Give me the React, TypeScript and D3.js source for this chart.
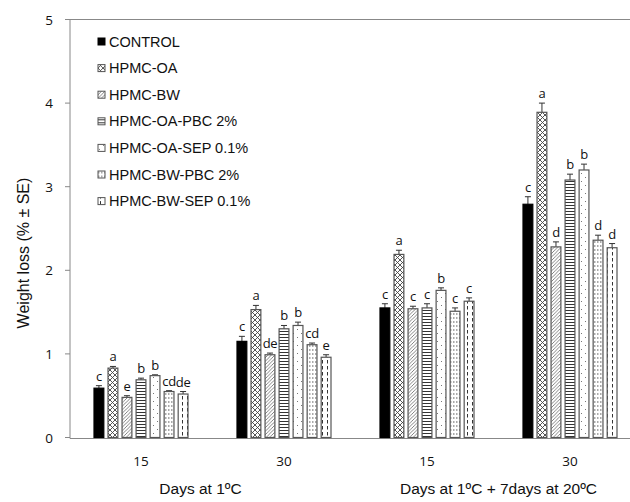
import * as d3 from "d3";

const groups = ["15", "30", "15 ", "30 "];
const groupLabels = ["15", "30", "15", "30"];
const series = [
  "CONTROL",
  "HPMC-OA",
  "HPMC-BW",
  "HPMC-OA-PBC 2%",
  "HPMC-OA-SEP 0.1%",
  "HPMC-BW-PBC 2%",
  "HPMC-BW-SEP 0.1%",
];
const means = [
  [0.59, 1.15, 1.55, 2.79],
  [0.83, 1.53, 2.19, 3.89],
  [0.48, 0.99, 1.54, 2.28],
  [0.69, 1.3, 1.55, 3.08],
  [0.74, 1.34, 1.76, 3.2],
  [0.55, 1.11, 1.51, 2.36],
  [0.52, 0.96, 1.63, 2.27],
];
const errors = [
  [0.03, 0.06, 0.05, 0.09],
  [0.02, 0.05, 0.05, 0.11],
  [0.02, 0.02, 0.03, 0.06],
  [0.02, 0.04, 0.05, 0.07],
  [0.01, 0.04, 0.03, 0.07],
  [0.01, 0.02, 0.04, 0.06],
  [0.03, 0.03, 0.04, 0.05],
];
const letters = [
  ["c", "c", "c", "c"],
  ["a", "a", "a", "a"],
  ["e", "de", "c", "d"],
  ["b", "b", "c", "b"],
  ["b", "b", "b", "b"],
  ["cd", "cd", "c", "d"],
  ["de", "e", "c", "d"],
];
const yTicks = [0, 1, 2, 3, 4, 5];
const periodLabels = ["Days at 1ºC", "Days at 1ºC + 7days at 20ºC"];

const fills = ["#000", "url(#p1)", "url(#p2)", "url(#p3)", "url(#p4)", "url(#p5)", "url(#p6)"];

export default function App() {
  const width = 630, height = 502;
  const left = 70, top = 19.5, bottom = 437.5;

  const y = d3.scaleLinear().domain([0, 5]).range([bottom, top]);
  const x = d3.scaleBand().domain(groups).range([69.5, 641.5]);
  const xs = d3.scaleBand().domain(series).range([-47, 47]).paddingInner(0.3);
  const bw = xs.bandwidth();
  const gc = (g) => x(g) + x.bandwidth() / 2;

  const tickFont = "'Open Sans', sans-serif";
  const textFont = "'Liberation Sans', Arial, sans-serif";

  return (
    <svg width={width} height={height} style={{ position: "absolute", left: 0, top: 0, background: "#fff" }}>
      <defs>
        <pattern id="p1" patternUnits="userSpaceOnUse" width="5" height="5">
          <rect width="5" height="5" fill="#fff" />
          <path d="M0,0L5,5M5,0L0,5" stroke="#444" strokeWidth="0.9" />
        </pattern>
        <pattern id="p2" patternUnits="userSpaceOnUse" width="3.5" height="3.5">
          <rect width="3.5" height="3.5" fill="#fff" />
          <path d="M0,3.5L3.5,0M-1,1L1,-1M2.5,4.5L4.5,2.5" stroke="#666" strokeWidth="0.8" />
        </pattern>
        <pattern id="p3" patternUnits="userSpaceOnUse" width="4" height="3">
          <rect width="4" height="3" fill="#fff" />
          <path d="M0,1.5L4,1.5" stroke="#333" strokeWidth="1" />
        </pattern>
        <pattern id="p4" patternUnits="userSpaceOnUse" width="8" height="8">
          <rect width="8" height="8" fill="#fff" />
          <rect x="1" y="1" width="1" height="1" fill="#777" />
          <rect x="5" y="5" width="1" height="1" fill="#777" />
        </pattern>
        <pattern id="p5" patternUnits="userSpaceOnUse" width="3" height="4">
          <rect width="3" height="4" fill="#fff" />
          <rect x="0" y="1.5" width="1.5" height="1" fill="#555" />
        </pattern>
        <pattern id="p6" patternUnits="userSpaceOnUse" width="5" height="6">
          <rect width="5" height="6" fill="#fff" />
          <path d="M2.5,0L2.5,3.5" stroke="#333" strokeWidth="1" />
        </pattern>
      </defs>

      {/* axes */}
      <line x1={left} x2={641} y1={top} y2={top} stroke="#888" strokeWidth={1} />
      <line x1={left} x2={left} y1={top} y2={bottom + 1} stroke="#888" strokeWidth={1} />
      <line x1={left} x2={641} y1={bottom + 1} y2={bottom + 1} stroke="#888" strokeWidth={1} />
      {yTicks.map((t) => (
        <g key={t}>
          <line x1={left - 5} x2={left} y1={y(t)} y2={y(t)} stroke="#888" />
          <text x={53} y={y(t) + 5} textAnchor="end" fontFamily={tickFont} fontSize={13.5} fill="#111">
            {t}
          </text>
        </g>
      ))}

      {/* bars */}
      {series.map((s, i) => (
        <g key={s}>
          {groups.map((g, j) => {
            const bx = gc(g) + xs(s);
            const v = means[i][j];
            const e = errors[i][j];
            const cx = bx + bw / 2;
            return (
              <g key={g}>
                <line x1={cx} x2={cx} y1={y(v)} y2={y(v + e)} stroke="#333" strokeWidth={1} />
                <line x1={cx - 3} x2={cx + 3} y1={y(v + e)} y2={y(v + e)} stroke="#333" strokeWidth={1} />
                <rect
                  x={bx}
                  y={y(v)}
                  width={bw}
                  height={bottom - y(v)}
                  fill={fills[i]}
                  stroke={i === 0 ? "#000" : "#555"}
                  strokeWidth={1.2}
                />
                <text x={cx} y={y(v + e) - 5} textAnchor="middle" fontFamily={tickFont} fontSize={13} letterSpacing={-0.3} fill="#111">
                  {letters[i][j]}
                </text>
              </g>
            );
          })}
        </g>
      ))}

      {/* x labels */}
      {groups.map((g, j) => (
        <text key={g} x={gc(g)} y={465.5} textAnchor="middle" fontFamily={tickFont} fontSize={13.5} fill="#111">
          {groupLabels[j]}
        </text>
      ))}
      <text x={(gc(groups[0]) + gc(groups[1])) / 2 - 12} y={494} textAnchor="middle" fontFamily={textFont} fontSize={15.5} fill="#111">
        {periodLabels[0]}
      </text>
      <text x={(gc(groups[2]) + gc(groups[3])) / 2} y={494} textAnchor="middle" fontFamily={textFont} fontSize={15.5} fill="#111">
        {periodLabels[1]}
      </text>

      {/* y title */}
      <text transform="translate(29,253) rotate(-90)" textAnchor="middle" fontFamily={textFont} fontSize={16} fill="#111">
        Weight loss (% ± SE)
      </text>

      {/* legend */}
      {series.map((s, i) => (
        <g key={s} transform={`translate(98,${41.5 + i * 26.6})`}>
          <rect x={0} y={-3.5} width={7} height={7} fill={fills[i]} stroke={i === 0 ? "#000" : "#555"} strokeWidth={1} />
          <text x={11} y={5} fontFamily={textFont} fontSize={14.5} fill="#111">
            {s}
          </text>
        </g>
      ))}
    </svg>
  );
}
